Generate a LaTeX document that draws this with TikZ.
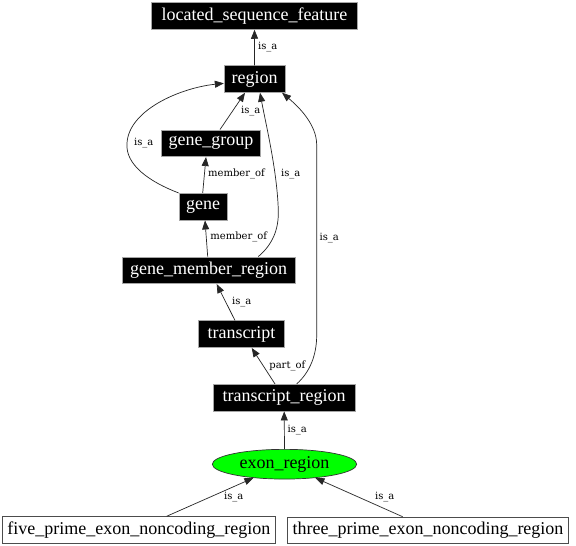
\documentclass[tikz,border=0pt]{standalone}
\usepackage{fontspec}
\setmainfont{Liberation Serif}
\newfontfamily\labfont{DejaVu Serif}
\usetikzlibrary{arrows.meta,shapes.geometric}
\tikzset{
  blk/.style={rectangle, fill=black, draw=gray!70, line width=0.8pt, text=white,
    minimum height=26.7pt, inner sep=0pt, font=\fontsize{18}{20}\selectfont},
  wbox/.style={rectangle, fill=white, draw=black!70, line width=0.8pt, text=black,
    minimum height=26.7pt, inner sep=0pt, font=\fontsize{18}{20}\selectfont},
  ell/.style={ellipse, fill=green, draw=black!80, line width=0.7pt, text=black,
    minimum width=144.4pt, minimum height=29.7pt, inner sep=0pt, font=\fontsize{18}{20}\selectfont},
  arr/.style={draw=black!85, line width=0.7pt, -{Triangle[length=9pt,width=7pt]}},
  lab/.style={inner sep=0pt, font=\labfont\fontsize{10}{12}\selectfont}
}
\begin{document}
\begin{tikzpicture}[x=1pt,y=-1pt]
\useasboundingbox[fill=white] (0,0) rectangle (576,546);
% nodes
\node[blk, minimum width=205.6pt] (lsf) at (254.5,16) {located\_sequence\_feature};
\node[blk, minimum width=60.7pt] (region) at (254.6,79) {region};
\node[blk, minimum width=99.7pt] (gg) at (211,143.3) {gene\_group};
\node[blk, minimum width=48.3pt] (gene) at (203.2,206.7) {gene};
\node[blk, minimum width=172.7pt] (gmr) at (208.7,270.3) {gene\_member\_region};
\node[blk, minimum width=85.6pt] (tr) at (241.5,334.2) {transcript};
\node[blk, minimum width=141.7pt] (trr) at (284.2,397.7) {transcript\_region};
\node[ell] (exon) at (284.5,464.2) {exon\_region};
\node[wbox, minimum width=272.3pt] (five) at (138.8,530) {five\_prime\_exon\_noncoding\_region};
\node[wbox, minimum width=281.4pt] (three) at (428,530.5) {three\_prime\_exon\_noncoding\_region};
% edges
\draw[arr] (region) -- (lsf);
\draw[arr] ([xshift=9pt]gg.north) -- ([xshift=-9.6pt]region.south);
\draw[arr] ([xshift=-0.5pt]gene.north) -- ([xshift=-5pt]gg.south);
\draw[arr] (gene.north west) .. controls (150,182) and (125,165) .. (127,143)
  .. controls (129,110) and (180,88) .. ([yshift=-4.3pt]region.west);
\draw[arr] ([xshift=49.6pt]gmr.north) .. controls (272,245) and (279,230) .. (278.3,210)
  .. controls (277,170) and (266,125) .. ([xshift=5.4pt]region.south);
\draw[arr] ([xshift=12.5pt]trr.north) .. controls (310,372) and (316.7,355) .. (316.7,335)
  -- (316.7,145) .. controls (316.7,125) and (300,108) .. ([xshift=-3.3pt]region.south east);
\draw[arr] ([xshift=-1pt]gmr.north) -- ([xshift=1.8pt]gene.south);
\draw[arr] ([xshift=-6.5pt]tr.north) -- ([xshift=8pt]gmr.south);
\draw[arr] ([xshift=-9.2pt]trr.north) -- ([xshift=10.2pt]tr.south);
\draw[arr] (exon.north) -- (trr.south);
\draw[arr] ([xshift=27.9pt]five.north) -- (exon);
\draw[arr] ([xshift=-25.3pt]three.north) -- (exon);
% edge labels
\node[lab] (l1) at (267.8,46.7) {is\_a};
\node[lab] (l2) at (250.7,110.7) {is\_a};
\node[lab] (l3) at (143.7,143.3) {is\_a};
\node[lab] (l4) at (236.5,174) {member\_of};
\node[lab] (l5) at (290.8,174) {is\_a};
\node[lab] (l6) at (329.2,237.7) {is\_a};
\node[lab] (l7) at (238.8,237.3) {member\_of};
\node[lab] (l8) at (241.7,301.7) {is\_a};
\node[lab] (l9) at (287.3,365.7) {part\_of};
\node[lab] (l10) at (297.3,430) {is\_a};
\node[lab] (l11) at (233.7,497.3) {is\_a};
\node[lab] (l12) at (384.7,497.3) {is\_a};
\end{tikzpicture}
\end{document}
